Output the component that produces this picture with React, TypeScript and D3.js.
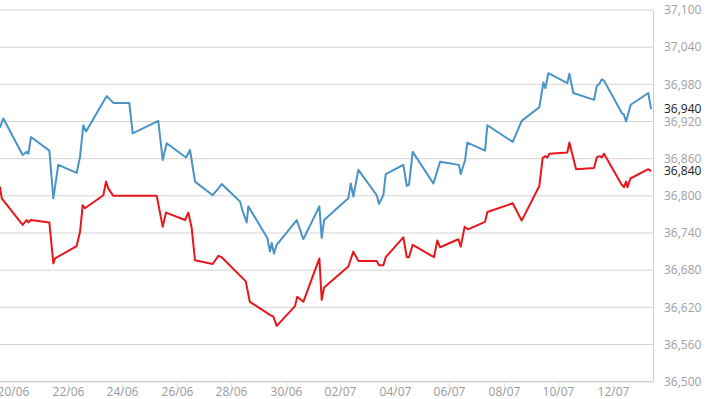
import React from 'react';
import * as d3 from 'd3';

// sell price (blue) - time stamps and values
const sellTimes = [
  '19/06 12:30', '19/06 15:30', '20/06 08:30', '20/06 12:00', '20/06 13:30', '20/06 15:50',
  '21/06 08:00', '21/06 11:30', '21/06 15:50', '22/06 08:00', '22/06 11:00', '22/06 13:50',
  '22/06 16:15', '23/06 06:00', '23/06 10:30', '23/06 16:15', '24/06 06:20', '24/06 09:20',
  '25/06 07:50', '25/06 11:45', '25/06 15:15', '26/06 08:15', '26/06 11:45', '26/06 16:10',
  '27/06 07:45', '27/06 12:40', '27/06 15:40', '28/06 07:47', '28/06 10:10', '28/06 13:40',
  '28/06 15:05', '29/06 07:50', '29/06 10:10', '29/06 11:40', '29/06 13:40', '29/06 16:05',
  '30/06 09:40', '30/06 15:30', '01/07 05:35', '01/07 07:40', '01/07 09:45', '02/07 07:05',
  '02/07 09:15', '02/07 11:30', '02/07 15:55', '03/07 08:05', '03/07 10:05', '03/07 13:55',
  '03/07 16:00', '04/07 07:30', '04/07 10:30', '04/07 12:30', '04/07 15:45', '05/07 09:55',
  '05/07 15:50', '06/07 08:30', '06/07 10:00', '06/07 13:50', '06/07 15:50', '07/07 07:25',
  '07/07 09:25', '08/07 07:45', '08/07 15:40', '09/07 07:10', '09/07 10:45', '09/07 12:30',
  '09/07 15:05', '10/07 07:50', '10/07 09:35', '10/07 13:05', '11/07 07:20', '11/07 09:40',
  '11/07 12:00', '11/07 14:05', '11/07 16:05', '12/07 07:40', '12/07 09:40', '12/07 11:30',
  '12/07 15:35', '13/07 07:05', '13/07 09:30',
];
const sellValues = [
  36910, 36925, 36866, 36871, 36868, 36895,
  36873, 36796, 36850, 36837, 36863, 36914,
  36904, 36947, 36961, 36950, 36950, 36901,
  36921, 36858, 36885, 36862, 36874, 36823,
  36801, 36812, 36819, 36791, 36775, 36757,
  36783, 36732, 36710, 36724, 36707, 36721,
  36761, 36730, 36783, 36732, 36761, 36796,
  36820, 36799, 36842, 36801, 36787, 36801,
  36835, 36850, 36816, 36818, 36871, 36820,
  36855, 36850, 36835, 36858, 36886, 36873,
  36914, 36887, 36921, 36943, 36983, 36974,
  36998, 36982, 36997, 36966, 36955, 36977,
  36981, 36988, 36986, 36934, 36931, 36920,
  36947, 36966, 36940,
];

// buy price (red)
const buyTimes = [
  '19/06 12:30', '19/06 14:05', '20/06 08:30', '20/06 12:00', '20/06 13:30', '20/06 15:35',
  '21/06 08:00', '21/06 11:30', '21/06 13:00', '22/06 08:00', '22/06 11:00', '22/06 13:20',
  '22/06 15:20', '23/06 07:30', '23/06 09:50', '23/06 11:50', '23/06 16:15', '25/06 06:30',
  '25/06 11:45', '25/06 14:40', '26/06 07:25', '26/06 10:15', '26/06 13:15', '26/06 16:10',
  '27/06 07:45', '27/06 12:40', '27/06 15:40', '28/06 12:50', '28/06 16:25', '29/06 10:10',
  '29/06 13:05', '29/06 16:05', '30/06 08:10', '30/06 10:10', '30/06 15:30', '01/07 05:35',
  '01/07 07:40', '01/07 09:45', '02/07 07:05', '02/07 11:30', '02/07 15:55', '03/07 08:05',
  '03/07 10:05', '03/07 13:55', '03/07 16:00', '04/07 07:30', '04/07 10:30', '04/07 12:30',
  '04/07 15:45', '05/07 08:30', '05/07 10:30', '05/07 13:25', '05/07 15:50', '06/07 07:55',
  '06/07 10:00', '06/07 13:25', '06/07 16:20', '07/07 07:25', '07/07 09:25', '08/07 07:45',
  '08/07 15:40', '09/07 07:10', '09/07 10:05', '09/07 12:30', '09/07 14:15', '09/07 16:00',
  '10/07 07:50', '10/07 09:35', '10/07 15:30', '11/07 07:20', '11/07 09:40', '11/07 12:00',
  '11/07 14:05', '11/07 16:05', '12/07 07:40', '12/07 09:40', '12/07 11:30', '12/07 12:40',
  '12/07 15:20', '13/07 07:05', '13/07 09:30',
];
const buyValues = [
  36815, 36796, 36753, 36761, 36757, 36761,
  36757, 36691, 36699, 36719, 36742, 36785,
  36780, 36801, 36823, 36812, 36800, 36800,
  36750, 36773, 36761, 36773, 36748, 36696,
  36690, 36703, 36701, 36662, 36629, 36608,
  36605, 36590, 36622, 36637, 36629, 36699,
  36632, 36652, 36686, 36710, 36695, 36695,
  36688, 36688, 36701, 36733, 36701, 36701,
  36721, 36703, 36701, 36728, 36717, 36730,
  36718, 36750, 36746, 36758, 36774, 36788,
  36760, 36816, 36861, 36864, 36862, 36868,
  36870, 36886, 36843, 36845, 36862, 36864,
  36862, 36868, 36818, 36814, 36823, 36814,
  36828, 36843, 36840,
];

const xTickLabels = ['20/06', '22/06', '24/06', '26/06', '28/06', '30/06', '02/07', '04/07', '06/07', '08/07', '10/07', '12/07'];
const yTicks = [36500, 36560, 36620, 36680, 36740, 36800, 36860, 36920, 36980, 37040, 37100];

const W = 710;
const H = 399;
const plotLeft = 0;
const plotRight = 653;
const plotTop = 10;
const plotBottom = 381.7;

const parse = d3.timeParse('%d/%m %H:%M');
const parseDay = d3.timeParse('%d/%m');
const fmtNum = d3.format(',');
const font = "'Open Sans', sans-serif";

export default function App() {
  const x = d3.scaleTime()
    .domain([parseDay('20/06')!, parseDay('12/07')!])
    .range([13, 613]);
  const y = d3.scaleLinear().domain([36500, 37100]).range([plotBottom, plotTop]);

  const sell = sellTimes.map((t, i) => ({ t: parse(t)!, v: sellValues[i] }));
  const buy = buyTimes.map((t, i) => ({ t: parse(t)!, v: buyValues[i] }));

  const line = d3.line<{ t: Date; v: number }>()
    .x(d => x(d.t))
    .y(d => y(d.v));

  const lastSell = sellValues[sellValues.length - 1];
  const lastBuy = buyValues[buyValues.length - 1];

  return (
    <svg width={W} height={H} style={{ position: 'absolute', left: 0, top: 0, background: '#fff' }}>
      <defs>
        <clipPath id="plot">
          <rect x={plotLeft} y={0} width={plotRight - plotLeft} height={plotBottom} />
        </clipPath>
      </defs>

      {/* horizontal grid */}
      {yTicks.map(t => (
        <line key={t} x1={plotLeft} x2={plotRight} y1={y(t)} y2={y(t)} stroke="#d4d4d4" strokeWidth={1} />
      ))}

      {/* right border */}
      <line x1={plotRight + 0.5} x2={plotRight + 0.5} y1={plotTop} y2={plotBottom} stroke="#cfcfcf" />

      {/* x axis */}
      <line x1={plotLeft} x2={plotRight + 1} y1={plotBottom} y2={plotBottom} stroke="#c8d0d8" strokeWidth={1.2} />
      {xTickLabels.map(lbl => {
        const px = Math.round(x(parseDay(lbl)!)) + 0.5;
        return (
          <g key={lbl}>
            <line x1={px} x2={px} y1={plotBottom} y2={plotBottom + 11} stroke="#e2e2d8" />
            <text x={px} y={395.5} textAnchor="middle" fontFamily={font} fontSize={12} fill="#9a9a9a">
              {lbl}
            </text>
          </g>
        );
      })}

      {/* y labels on the right */}
      {yTicks.map(t => (
        <text key={t} x={664} y={y(t)} dy="0.35em" fontFamily={font} fontSize={12} fill="#a0a0a0">
          {fmtNum(t)}
        </text>
      ))}
      <text x={664} y={y(lastSell)} dy="0.35em" fontFamily={font} fontSize={12} fill="#1a1a1a">
        {fmtNum(lastSell)}
      </text>
      <text x={664} y={y(lastBuy)} dy="0.35em" fontFamily={font} fontSize={12} fill="#1a1a1a">
        {fmtNum(lastBuy)}
      </text>

      <g clipPath="url(#plot)">
        <path d={line(buy) ?? ''} fill="none" stroke="#e8161c" strokeWidth={2} strokeLinejoin="round" />
        <path d={line(sell) ?? ''} fill="none" stroke="#4a93c6" strokeWidth={2} strokeLinejoin="round" />
      </g>
    </svg>
  );
}
